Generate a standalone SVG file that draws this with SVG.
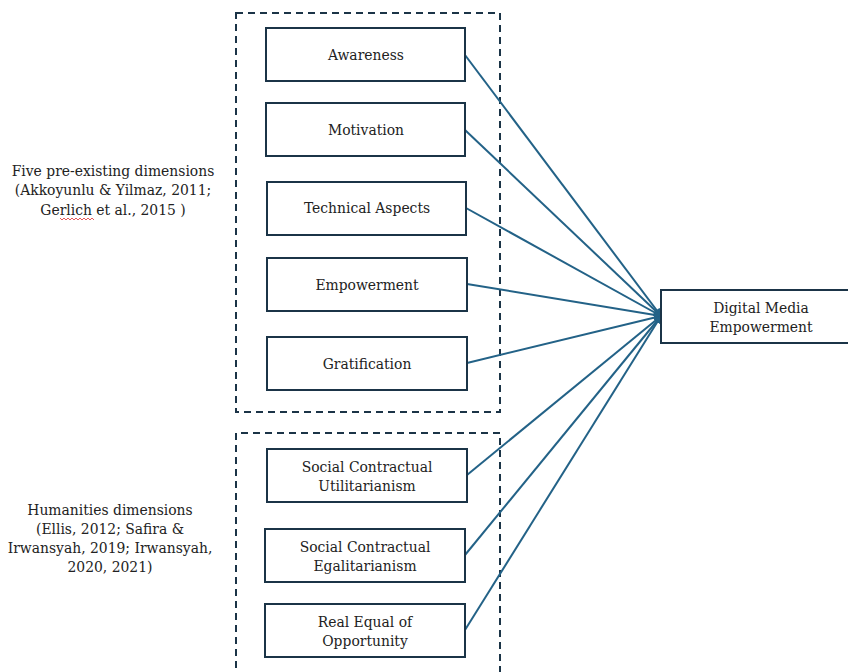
<svg xmlns="http://www.w3.org/2000/svg" width="848" height="672" viewBox="0 0 848 672">
<defs>
<style>
.box{fill:#fff;stroke:#1b3447;stroke-width:2}
.grp{fill:none;stroke:#1b3447;stroke-width:2;stroke-dasharray:7,5}
text{font-family:'DejaVu Serif',serif;font-size:13.9px;fill:#222;text-anchor:middle}
.c{stroke:#236287;stroke-width:2;fill:none;marker-end:url(#ah)}
</style>
<marker id="ah" viewBox="0 0 10 10" refX="9" refY="5" markerWidth="4" markerHeight="4" orient="auto" markerUnits="strokeWidth">
<path d="M0,0 L10,5 L0,10 z" fill="#236287"/>
</marker>
</defs>
<rect width="848" height="672" fill="#fff"/>
<g id="group-five"><rect class="grp" x="236" y="13" width="264" height="399"/></g>
<g id="group-humanities"><path class="grp" d="M236,680 V433 H500 V680"/></g>
<g id="label-five">
<text x="113" y="176">Five pre-existing dimensions</text>
<text x="113" y="195">(Akkoyunlu &amp; Yilmaz, 2011;</text>
<text x="113" y="215">Gerlich et al., 2015 )</text>
<path d="M60,218 l2,2 l2,-2 l2,2 l2,-2 l2,2 l2,-2 l2,2 l2,-2 l2,2 l2,-2 l2,2 l2,-2 l2,2 l2,-2 l2,2 l2,-2 l2,2" fill="none" stroke="#e03030" stroke-width="0.8"/>
</g>
<g id="label-humanities">
<text x="110" y="515">Humanities dimensions</text>
<text x="110" y="534">(Ellis, 2012; Safira &amp;</text>
<text x="110" y="553">Irwansyah, 2019; Irwansyah,</text>
<text x="110" y="572">2020, 2021)</text>
</g>
<g id="connectors">
<line class="c" x1="465" y1="55" x2="661" y2="316"/>
<line class="c" x1="465" y1="130" x2="661" y2="316"/>
<line class="c" x1="466" y1="208" x2="661" y2="316"/>
<line class="c" x1="467" y1="284" x2="661" y2="316"/>
<line class="c" x1="467" y1="363" x2="661" y2="316"/>
<line class="c" x1="467" y1="475" x2="661" y2="316"/>
<line class="c" x1="465" y1="555" x2="661" y2="316"/>
<line class="c" x1="465" y1="630" x2="661" y2="316"/>
</g>
<g id="awareness"><rect class="box" x="266" y="28" width="199" height="53"/><text x="366" y="60">Awareness</text></g>
<g id="motivation"><rect class="box" x="266" y="103" width="199" height="53"/><text x="366" y="135">Motivation</text></g>
<g id="technical"><rect class="box" x="267" y="182" width="199" height="53"/><text x="367" y="213">Technical Aspects</text></g>
<g id="empowerment"><rect class="box" x="267" y="258" width="200" height="53"/><text x="367" y="290">Empowerment</text></g>
<g id="gratification"><rect class="box" x="267" y="337" width="200" height="53"/><text x="367" y="369">Gratification</text></g>
<g id="utilitarianism"><rect class="box" x="267" y="449" width="200" height="53"/><text x="367" y="472">Social Contractual</text><text x="367" y="491">Utilitarianism</text></g>
<g id="egalitarianism"><rect class="box" x="265" y="529" width="200" height="53"/><text x="365" y="552">Social Contractual</text><text x="365" y="571">Egalitarianism</text></g>
<g id="opportunity"><rect class="box" x="265" y="604" width="200" height="53"/><text x="365" y="627">Real Equal of</text><text x="365" y="646">Opportunity</text></g>
<g id="digital-media"><rect class="box" x="661" y="290" width="195" height="53"/><text x="761" y="313">Digital Media</text><text x="761" y="332">Empowerment</text></g>
</svg>
